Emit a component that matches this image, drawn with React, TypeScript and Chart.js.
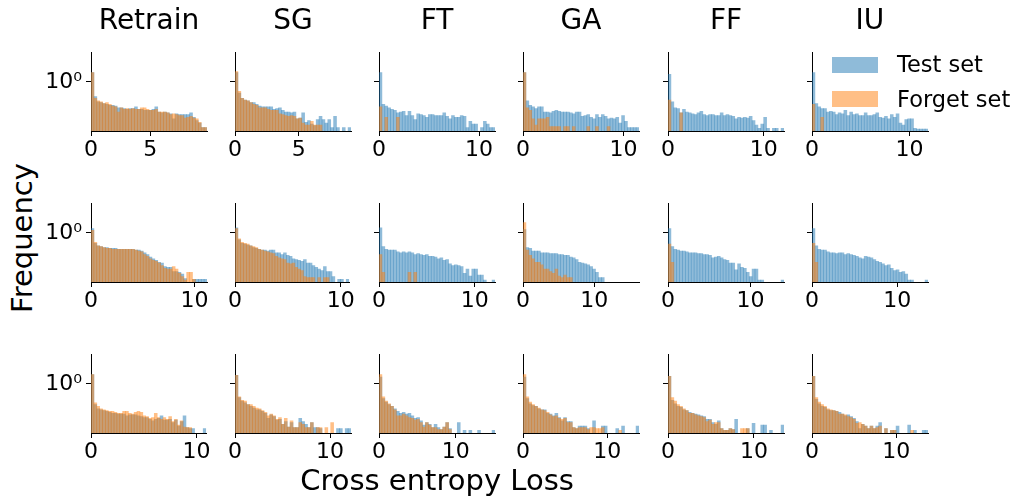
import React, { useEffect, useRef } from 'react';
import { Chart, registerables } from 'chart.js';

Chart.register(...registerables);

const n = null;

// Panel titles (columns) and legend labels
const methods = ['Retrain', 'SG', 'FT', 'GA', 'FF', 'IU'];
const seriesNames = ['Test set', 'Forget set'];

// Upper edge of the histogram bins (loss) for each row / column; bins start at 0
const binMax = [
  [9.8, 9.1, 11.6, 11.55, 12.1, 11.9],
  [11.2, 10.8, 12.1, 16.3, 14.05, 13.6],
  [10.9, 12.2, 15.1, 13.75, 13.5, 13.75],
];
// Second x tick label of each panel (first is 0)
const xTickStep = [
  [5, 5, 10, 10, 10, 10],
  [10, 10, 10, 10, 10, 10],
  [10, 10, 10, 10, 10, 10],
];
const yTickValues = [1];
const yMin = 0.0316;
const yMax = 8.1;

// ---------- Row 1 ----------
const r1RetrainTest = [1.94,.357,.248,.233,.219,.206,.194,.194,.183,.162, .162,.153,.144,.153,.153,.172,.144,.144,.135,.135, .135,.144,.172,.120,.113,.120,.113,.106,.074,.106, .100,.100,.100,.100,.113,.083,.066,.055,.040,.040];
const r1RetrainForget = [1.94,.316,.263,.248,.219,.233,.206,.183,.172,.120, .162,.144,.153,.144,.153,.144,.144,.162,.162,.144, .135,.135,.144,.120,.120,.120,.113,.100,.106,.100, .094,.094,.079,.083,.089,.079,.074,.058,.040,.040];
const r1SGTest = [1.94,.455,.316,.280,.263,.233,.233,.206,.183,.172, .172,.172,.172,.144,.153,.162,.135,.120,.120,.113, .120,.074,.079,.113,.058,.066,.051,.046,.070,.089, .070,.055,.070,.040,.089,.040,n,.040,n,.040];
const r1SGForget = [2.06,.514,.316,.280,.263,.233,.206,.194,.162,.162, .162,.144,.135,.135,.135,.106,.100,.094,.089,.094, .089,.074,.079,.055,.048,.048,.062,.048,.048,.048, n,n,n,n,n,n,n,n,n,n];
const r1FTTest = [1.94,.206,.183,.162,.144,.135,.113,.120,.127,.094, .127,.094,.070,.106,.100,.094,.083,.100,.100,.094, .094,.094,.113,.089,.074,.094,.083,.083,.094,.089, .040,.062,.051,.051,n,.040,.062,.051,.040,.040];
const r1FTForget = [.172,n,.083,n,n,n,.083,n,n,n, n,n,n,n,n,n,n,n,n,n, n,n,n,n,n,n,n,n,n,n, n,n,n,n,n,n,n,n,n,n];
const r1GATest = [1.94,.263,.194,.172,.153,.172,.172,.120,.120,.113, .127,.135,.127,.120,.120,.120,.113,.106,.120,.120, .089,.094,.100,.083,.074,.100,.083,.100,.089,.074, .079,.074,.083,.055,.094,.062,.040,.040,.040,.040];
const r1GAForget = [1.94,.162,.135,.074,.048,.074,.074,.074,.083,.043, .043,.043,.043,n,.043,.043,n,.043,n,n, n,n,.043,n,n,.043,n,n,n,.043, n,n,n,n,n,n,n,n,n,n];
const r1FFTest = [1.72,.248,.162,.153,.113,.144,.120,.113,.106,.100, .113,.127,.100,.094,.100,.100,.094,.094,.113,.094, .100,.094,.089,.074,.083,.079,.083,.079,.089,.066, .048,.038,.051,.083,.038,n,.038,.038,n,.038];
const r1FFForget = [.280,n,n,n,.113,n,n,n,n,n, n,n,n,n,n,n,n,n,n,n, n,n,n,n,n,n,n,n,n,n, n,n,n,n,n,n,n,n,n,n];
const r1IUTest = [1.94,.219,.172,.153,.153,.120,.127,.120,.100,.113, .106,.135,.094,.120,.100,.106,.094,.094,.113,.094, .094,.100,.113,.083,.079,.089,.074,.100,.083,.106, .055,.048,.070,.074,.074,.038,.036,.036,.036,.036];
const r1IUForget = [.206,n,n,.083,n,n,n,n,n,n, n,n,n,n,n,n,n,n,n,n, n,n,n,n,n,n,n,n,n,n, n,n,n,n,n,n,n,n,n,n];

// ---------- Row 2 ----------
const r2RetrainTest = [1.35,.483,.403,.379,.357,.357,.336,.336,.336,.316, .316,.316,.316,.316,.316,.297,.297,.280,.248,.219, .183,.162,.144,.127,.120,.094,.089,.089,.066,.066, .062,.055,.040,n,n,.038,.038,.038,.038,.038];
const r2RetrainForget = [1.20,.514,.403,.379,.357,.336,.336,.316,.316,.316, .316,.316,.316,.316,.316,.297,.280,.263,.219,.194, .162,.144,.135,.120,.100,.083,.079,.079,.094,.079, .058,.046,.036,.062,.062,.038,n,n,n,n];
const r2SGTest = [1.44,.616,.483,.455,.428,.403,.357,.336,.316,.297, .297,.280,.297,.297,.248,.248,.219,.248,.206,.194, .162,.153,.144,.135,.153,.120,.120,.100,.089,.079, .070,.094,.066,.066,.046,n,.038,.038,n,.038];
const r2SGForget = [1.35,.655,.514,.483,.455,.403,.379,.357,.316,.297, .280,.263,.248,.233,.194,.172,.162,.153,.120,.113, .120,.089,.079,.070,.046,.043,.043,.043,n,.043, n,.043,.043,n,n,n,n,n,n,n];
const r2FTTest = [1.44,.379,.316,.297,.297,.297,.263,.248,.263,.248, .263,.248,.219,.233,.219,.206,.219,.194,.194,.183, .162,.172,.144,.153,.113,.100,.106,.100,.094,.058, .079,.048,.079,.079,.051,.051,.036,n,n,.036];
const r2FTForget = [.219,.062,n,n,n,n,n,n,n,n, .062,n,.062,n,n,n,n,n,n,n, n,n,n,n,n,n,n,n,n,n, n,n,n,n,n,n,n,n,n,n];
const r2GATest = [1.27,.357,.336,.280,.280,.280,.248,.248,.248,.233, .233,.233,.219,.219,.206,.206,.183,.172,.153,.127, .120,.113,.106,.094,.079,.062,.043,.043,n,n, n,n,n,n,n,n,n,n,n,n];
const r2GAForget = [2.06,.297,.206,.162,.127,.127,.106,.079,.079,.066, .058,.079,.048,.043,.051,.043,.043,n,n,n, n,n,n,n,n,n,n,n,n,n, n,n,n,n,n,n,n,n,n,n];
const r2FFTest = [1.35,.379,.316,.297,.280,.280,.263,.248,.248,.248, .233,.233,.219,.219,.206,.172,.183,.194,.172,.153, .144,.120,.120,.074,.113,.089,.083,.062,.046,.079, .079,.036,.036,n,n,n,n,n,n,.036];
const r2FFForget = [.455,.127,n,n,n,n,n,n,n,n, n,n,n,n,n,n,n,n,n,n, n,n,n,n,n,n,n,n,n,n, n,n,n,n,n,n,n,n,n,n];
const r2IUTest = [1.35,.403,.316,.297,.297,.263,.248,.248,.233,.248, .248,.219,.233,.219,.206,.194,.172,.162,.194,.183, .172,.153,.135,.127,.113,.100,.106,.083,.070,.074, .062,.066,.055,.036,.036,n,n,n,n,.036];
const r2IUForget = [.483,.127,n,n,n,n,n,n,n,n, n,n,n,n,n,n,n,n,n,n, n,n,n,n,n,n,n,n,n,n, n,n,n,n,n,n,n,n,n,n];

// ---------- Row 3 ----------
const r3RetrainTest = [1.94,.233,.172,.162,.153,.144,.135,.127,.127,.120, .120,.120,.106,.113,.113,.113,.106,.100,.094,.094, .083,.074,.083,.089,.106,.079,.079,.083,.066,.079, .051,.070,.106,.046,.043,.043,n,n,n,.043];
const r3RetrainForget = [1.94,.263,.206,.172,.162,.153,.144,.144,.135,.127, .127,.144,.144,.127,.120,.135,.144,.135,.106,.100, .089,.094,.127,.094,.083,.094,.083,.100,.070,.083, .055,.074,.048,.046,.046,n,n,n,n,n];
const r3SGTest = [1.83,.379,.297,.263,.233,.206,.183,.162,.162,.144, .127,.089,.113,.100,.079,.083,.058,.070,.048,.066, .046,.046,.089,.070,.058,.046,.066,.046,.046,.043, n,n,n,n,n,.043,.043,n,.043,.043];
const r3SGForget = [1.83,.403,.316,.297,.233,.233,.206,.183,.172,.153, .135,.106,.120,.106,.083,.094,.058,.089,.048,.074, .046,.046,.066,.058,.046,.046,.066,n,.046,.046, n,.046,n,.066,n,n,n,n,n,n];
const r3FTTest = [1.62,.357,.280,.233,.206,.172,.144,.127,.135,.120, .127,.106,.089,.094,.074,.055,.066,.058,.046,.058, .046,.040,.048,.066,.043,n,n,.066,n,.038, n,.038,n,n,.038,n,n,n,n,.038];
const r3FTForget = [1.94,.403,.297,.248,.206,.162,.106,.106,.120,.106, .094,.089,.079,.083,.066,.048,.066,.055,.046,.046, .040,.040,.048,.066,.040,n,n,n,n,n, n,n,n,n,n,n,n,n,n,n];
const r3GATest = [1.62,.357,.248,.219,.206,.172,.162,.162,.127,.120, .106,.127,.094,.074,.094,.070,.070,.046,.043,.051, .051,.051,.043,n,.074,n,n,.051,.051,n, n,n,.043,n,.051,n,n,n,n,.051];
const r3GAForget = [1.94,.403,.280,.233,.206,.183,.162,.153,.135,.113, .100,.106,.089,.083,.089,.066,.066,.046,.043,.046, .046,.046,.040,.046,.046,.043,.043,.046,n,n, n,n,n,.038,n,n,n,n,n,n];
const r3FFTest = [1.72,.316,.248,.206,.194,.162,.153,.135,.127,.120, .113,.106,.100,.083,.083,.066,.058,.074,.043,.038, .038,.043,.040,.083,n,n,n,.043,n,.062, n,n,.055,.055,n,.038,n,n,n,.055];
const r3FFForget = [1.72,.379,.297,.233,.206,.172,.153,.127,.127,.113, .106,.100,.094,.070,.079,.058,.066,.066,.043,.038, .038,.043,.040,n,n,.043,.043,.043,n,n, n,n,n,n,n,n,n,n,n,n];
const r3IUTest = [1.72,.336,.248,.206,.194,.162,.153,.153,.144,.135, .120,.106,.113,.100,.089,.070,.043,.058,.051,.043, .051,.043,.051,.066,n,.043,n,.038,.038,.051, n,n,n,.055,n,.038,n,n,.038,.038];
const r3IUForget = [1.72,.379,.280,.233,.206,.172,.162,.153,.144,.120, .120,.113,.100,.094,.083,.062,.066,.058,.051,.043, .051,.043,.046,.051,n,.043,n,.038,.038,n, n,n,n,n,.038,n,n,n,n,n];

const testData = [
  [r1RetrainTest, r1SGTest, r1FTTest, r1GATest, r1FFTest, r1IUTest],
  [r2RetrainTest, r2SGTest, r2FTTest, r2GATest, r2FFTest, r2IUTest],
  [r3RetrainTest, r3SGTest, r3FTTest, r3GATest, r3FFTest, r3IUTest],
];
const forgetData = [
  [r1RetrainForget, r1SGForget, r1FTForget, r1GAForget, r1FFForget, r1IUForget],
  [r2RetrainForget, r2SGForget, r2FTForget, r2GAForget, r2FFForget, r2IUForget],
  [r3RetrainForget, r3SGForget, r3FTForget, r3GAForget, r3FFForget, r3IUForget],
];

const BLUE = 'rgba(31,119,180,0.5)';
const ORANGE = 'rgba(255,127,14,0.5)';
const FONT = 'DejaVu Sans';
const TICK_SIZE = 22;

const PANEL_LEFT = [91, 235, 379, 523, 668, 812];
const PANEL_TOP = [40, 191, 342];
const PANEL_W = 116;
const PANEL_H = 91;
const AXIS_W = 50;
const AXIS_H = 34;
const PAD = 5;

Chart.defaults.font.family = FONT;

function Panel({ row, col }: { row: number; col: number }) {
  const ref = useRef<HTMLCanvasElement>(null);
  useEffect(() => {
    if (!ref.current) return;
    const xmax = binMax[row][col];
    const toPoints = (arr: (number | null)[]) =>
      arr.map((v, i) => ({ x: ((i + 0.5) * xmax) / arr.length, y: v }));
    const chart = new Chart(ref.current, {
      type: 'bar',
      data: {
        datasets: [
          { label: seriesNames[0], data: toPoints(testData[row][col]) as any, backgroundColor: BLUE, borderWidth: 0, order: 1 },
          { label: seriesNames[1], data: toPoints(forgetData[row][col]) as any, backgroundColor: ORANGE, borderWidth: 0, order: 0 },
        ],
      },
      options: {
        animation: false,
        responsive: false,
        layout: { padding: { top: PAD, right: PAD, left: 0, bottom: 0 } },
        datasets: { bar: { grouped: false, barPercentage: 1, categoryPercentage: 1 } } as any,
        plugins: { legend: { display: false }, tooltip: { enabled: false } },
        scales: {
          x: {
            type: 'linear',
            min: 0,
            max: xmax,
            offset: false,
            bounds: 'data',
            grid: { display: true, drawOnChartArea: false, drawTicks: true, tickLength: 5, color: '#000', lineWidth: 1, offset: false },
            border: { display: true, color: '#000', width: 1 },
            ticks: {
              color: '#000',
              font: { family: FONT, size: TICK_SIZE },
              padding: 1,
              maxRotation: 0,
              autoSkip: false,
              callback: (v: any) => String(v),
            },
            afterBuildTicks: (s: any) => {
              s.ticks = [{ value: 0 }, { value: xTickStep[row][col] }];
            },
            afterFit: (s: any) => {
              s.height = AXIS_H;
            },
          } as any,
          y: {
            type: 'logarithmic',
            min: yMin,
            max: yMax,
            bounds: 'data',
            grid: { display: true, drawOnChartArea: false, drawTicks: true, tickLength: 5, color: '#000', lineWidth: 1 },
            border: { display: true, color: '#000', width: 1 },
            ticks: {
              color: '#000',
              font: { family: FONT, size: TICK_SIZE },
              padding: 4,
              autoSkip: false,
              callback: () => (col === 0 ? '10\u2070' : ''),
            },
            afterBuildTicks: (s: any) => {
              s.ticks = yTickValues.map((v) => ({ value: v }));
            },
            afterFit: (s: any) => {
              s.width = AXIS_W;
            },
          } as any,
        },
      },
    });
    return () => chart.destroy();
  }, [row, col]);
  return (
    <canvas
      ref={ref}
      width={AXIS_W + PANEL_W + PAD}
      height={PAD + PANEL_H + AXIS_H}
      style={{ position: 'absolute', left: PANEL_LEFT[col] - AXIS_W, top: PANEL_TOP[row] - PAD }}
    />
  );
}

export default function App() {
  const panels: JSX.Element[] = [];
  for (let r = 0; r < 3; r++) {
    for (let c = 0; c < 6; c++) {
      panels.push(<Panel key={`${r}-${c}`} row={r} col={c} />);
    }
  }
  return (
    <div
      style={{
        position: 'absolute',
        left: 0,
        top: 0,
        width: 1013,
        height: 496,
        background: '#fff',
        overflow: 'hidden',
        fontFamily: FONT,
        color: '#000',
      }}
    >
      {panels}
      {methods.map((m, c) => (
        <div
          key={m}
          style={{
            position: 'absolute',
            left: PANEL_LEFT[c] - 30,
            width: PANEL_W + 60,
            top: 6,
            textAlign: 'center',
            fontSize: 28,
            lineHeight: '28px',
            whiteSpace: 'nowrap',
          }}
        >
          {m}
        </div>
      ))}
      <div
        style={{
          position: 'absolute',
          left: 22,
          top: 238,
          transform: 'translate(-50%, -50%) rotate(-90deg)',
          fontSize: 29,
          lineHeight: '29px',
          whiteSpace: 'nowrap',
        }}
      >
        Frequency
      </div>
      <div
        style={{
          position: 'absolute',
          left: 437,
          top: 466,
          transform: 'translateX(-50%)',
          fontSize: 29,
          lineHeight: '29px',
          whiteSpace: 'nowrap',
        }}
      >
        Cross entropy Loss
      </div>
      {/* Legend */}
      <div style={{ position: 'absolute', left: 832, top: 57, width: 46, height: 16, background: BLUE }} />
      <div style={{ position: 'absolute', left: 832, top: 91, width: 46, height: 16, background: ORANGE }} />
      <div style={{ position: 'absolute', left: 897, top: 53.3, fontSize: 22.5, lineHeight: '22.5px', whiteSpace: 'nowrap' }}>
        {seriesNames[0]}
      </div>
      <div style={{ position: 'absolute', left: 897, top: 87.7, fontSize: 22.5, lineHeight: '22.5px', whiteSpace: 'nowrap' }}>
        {seriesNames[1]}
      </div>
    </div>
  );
}
